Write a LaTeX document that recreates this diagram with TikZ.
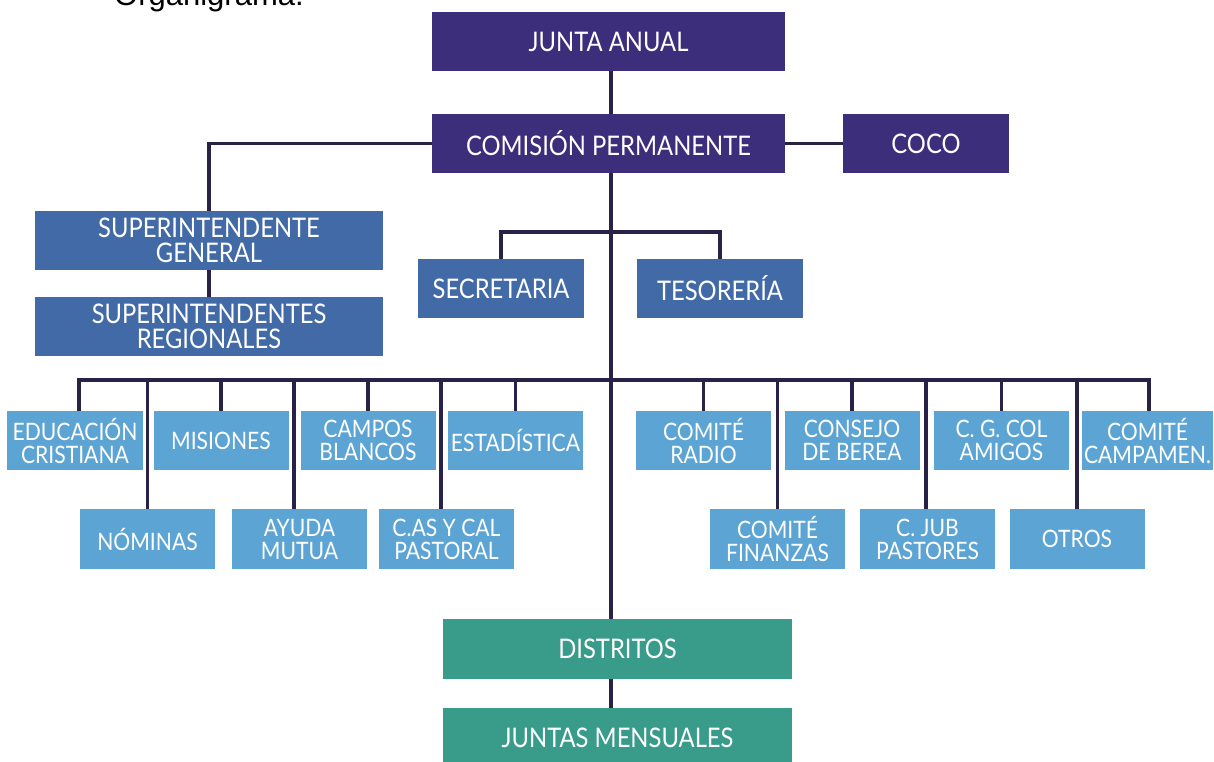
\documentclass[tikz,border=0pt]{standalone}
\usepackage{fontspec}
\setmainfont{Lato}[FakeStretch=0.88]
\newfontfamily\titlefont{Liberation Sans}
\definecolor{navy}{RGB}{60,46,122}
\definecolor{midblue}{RGB}{66,106,167}
\definecolor{lightblue}{RGB}{92,164,211}
\definecolor{tealbox}{RGB}{57,155,138}
\definecolor{linec}{RGB}{42,33,70}
\begin{document}
\begin{tikzpicture}[x=1pt,y=-1pt,
  box/.style={inner sep=0pt, text=white, align=center},
  big/.style={box, font=\fontsize{27}{25}\selectfont, minimum height=59pt},
  purple/.style={big, fill=navy},
  blue/.style={big, fill=midblue},
  green/.style={big, fill=tealbox, minimum width=349pt, minimum height=60pt},
  small/.style={box, font=\fontsize{24}{23}\selectfont, minimum width=135pt, minimum height=59pt, fill=lightblue},
  conn/.style={draw=linec, line width=3.5pt}]
\useasboundingbox (0,0) rectangle (1214,762);
\fill[white] (0,0) rectangle (1214,762);
% title (cut at top)
\node[anchor=base west, inner sep=0pt, font=\titlefont\fontsize{31}{31}\selectfont] (title) at (114,6) {Organigrama.};
% top levels
\node[purple, minimum width=353pt] (jun) at (608.5,41.5) {JUNTA ANUAL};
\node[purple, minimum width=353pt] (com) at (608.5,143.5) {COMISIÓN PERMANENTE};
\node[purple, minimum width=166pt] (coco) at (926,143.5) {COCO};
\node[blue, minimum width=348pt] (sg) at (209,240.5) {SUPERINTENDENTE\\GENERAL};
\node[blue, minimum width=348pt] (sr) at (209,326.5) {SUPERINTENDENTES\\REGIONALES};
\node[blue, minimum width=166pt] (sec) at (501,288.5) {SECRETARIA};
\node[blue, minimum width=166pt] (tes) at (720,288.5) {TESORERÍA};
\node[green] (dis) at (617.5,649) {DISTRITOS};
\node[green] (jm) at (617.5,738) {JUNTAS MENSUALES};
% top row
\node[small, minimum width=136pt] (edu) at (75,440.5) {EDUCACIÓN\\CRISTIANA};
\node[small] (mis) at (221,440.5) {MISIONES};
\node[small] (cam) at (368,440.5) {CAMPOS\\BLANCOS};
\node[small] (est) at (515.5,440.5) {ESTADÍSTICA};
\node[small] (rad) at (703.5,440.5) {COMITÉ\\RADIO};
\node[small] (con) at (852,440.5) {CONSEJO\\DE BEREA};
\node[small] (cgc) at (1001.5,440.5) {C. G. COL\\AMIGOS};
\node[small, minimum width=131pt] (cpm) at (1147.5,440.5) {COMITÉ\\CAMPAMEN.};
% bottom row
\node[small, minimum height=60pt] (nom) at (147.5,539) {NÓMINAS};
\node[small, minimum height=60pt] (ayu) at (299.5,539) {AYUDA\\MUTUA};
\node[small, minimum height=60pt] (cas) at (446.5,539) {C.AS Y CAL\\PASTORAL};
\node[small, minimum height=60pt] (fin) at (777.5,539) {COMITÉ\\FINANZAS};
\node[small, minimum height=60pt] (jub) at (927.5,539) {C. JUB\\PASTORES};
\node[small, minimum height=60pt] (otr) at (1077,539) {OTROS};
% helper coordinates
\coordinate (tk) at (611,380);
\coordinate (bk) at (611,232);
% connectors
\draw[conn] (jun.south -| tk) -- (com.north -| tk);
\draw[conn] (com.east) -- (coco.west);
\draw[conn] (com.west) -| (sg.north);
\draw[conn] (sg.south) -- (sr.north);
\draw[conn] (com.south -| tk) -- (dis.north -| tk);
\draw[conn] (dis.south -| tk) -- (jm.north -| tk);
\draw[conn] (sec.north) |- (bk) -| (tes.north);
\draw[conn] ([xshift=4pt]edu.north) |- (tk) -| ([xshift=1.5pt]cpm.north);
\draw[conn] (mis.north) -- (mis.north |- tk);
\draw[conn] (cam.north) -- (cam.north |- tk);
\draw[conn] (est.north) -- (est.north |- tk);
\draw[conn] (rad.north) -- (rad.north |- tk);
\draw[conn] (con.north) -- (con.north |- tk);
\draw[conn] (cgc.north) -- (cgc.north |- tk);
\draw[conn] (nom.north) -- (nom.north |- tk);
\draw[conn] ([xshift=-5.5pt]ayu.north) -- ([xshift=-5.5pt]ayu.north |- tk);
\draw[conn] ([xshift=-5.5pt]cas.north) -- ([xshift=-5.5pt]cas.north |- tk);
\draw[conn] (fin.north) -- (fin.north |- tk);
\draw[conn] ([xshift=-1.5pt]jub.north) -- ([xshift=-1.5pt]jub.north |- tk);
\draw[conn] (otr.north) -- (otr.north |- tk);
\end{tikzpicture}
\end{document}
